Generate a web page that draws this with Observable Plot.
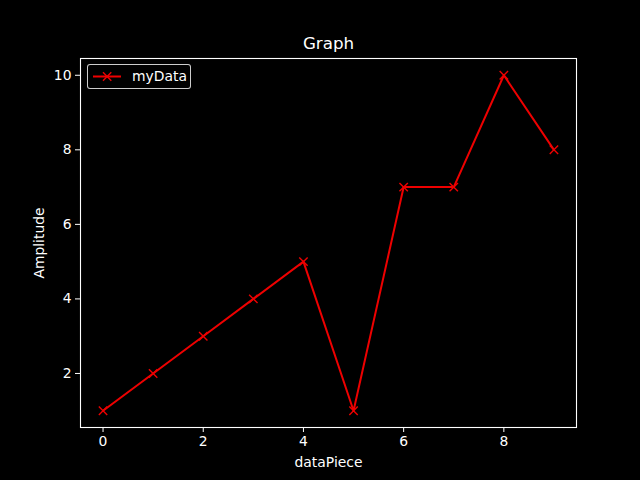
<!DOCTYPE html>
<html>
<head>
<meta charset="utf-8">
<script src="https://cdn.jsdelivr.net/npm/d3@7"></script>
<script src="https://cdn.jsdelivr.net/npm/@observablehq/plot@0.6"></script>
<style>
  html, body { margin: 0; padding: 0; background: #000; }
  #wrap { position: relative; width: 640px; height: 480px; background: #000; font-family: "DejaVu Sans", sans-serif; }
  #legend { position: absolute; left: 87px; top: 64px; width: 104px; height: 25px; box-sizing: border-box;
    border: 1px solid rgba(255,255,255,0.8); border-radius: 3px; background: rgba(0,0,0,0.8); }
  #legend svg { position: absolute; left: 0; top: 0; }
  #legend span { position: absolute; left: 44px; top: 2px; color: #fff; font-size: 13.9px; line-height: 18px; }
</style>
</head>
<body>
<div id="wrap"></div>
<script>
const xValues = [0, 1, 2, 3, 4, 5, 6, 7, 8, 9];
const yValues = [1, 2, 3, 4, 5, 1, 7, 7, 10, 8];
const xTicks = [0, 2, 4, 6, 8];
const yTicks = [2, 4, 6, 8, 10];
const seriesName = "myData";
const titleText = "Graph";
const xLabel = "dataPiece";
const yLabel = "Amplitude";

const data = xValues.map((x, i) => ({x, y: yValues[i]}));
const lineColor = "#ee0000";
const font = "DejaVu Sans, sans-serif";

const chart = Plot.plot({
  width: 640,
  height: 480,
  marginLeft: 80,
  marginRight: 64,
  marginTop: 58,
  marginBottom: 53,
  style: {background: "#000", color: "#fff", fontFamily: font, fontSize: "13.9px"},
  x: {domain: [-0.45, 9.45]},
  y: {domain: [0.55, 10.45]},
  marks: [
    Plot.frame({stroke: "#fff", strokeWidth: 1.1}),
    Plot.axisX(xTicks, {tickSize: 5, tickPadding: 4, stroke: "#fff", fill: "#fff", fontSize: 13.9, label: null}),
    Plot.axisY(yTicks, {tickSize: 5, tickPadding: 4, stroke: "#fff", fill: "#fff", fontSize: 13.9, label: null}),
    Plot.line(data, {x: "x", y: "y", stroke: lineColor, strokeWidth: 2}),
    Plot.dot(data, {x: "x", y: "y", symbol: "times", r: 3.9, stroke: lineColor, strokeWidth: 1.4}),
    Plot.text([titleText], {frameAnchor: "top", dy: -15, fill: "#fff", fontSize: 16.7, lineAnchor: "middle"}),
    Plot.text([xLabel], {frameAnchor: "bottom", dy: 35, fill: "#fff", fontSize: 13.9, lineAnchor: "middle"}),
    Plot.text([yLabel], {frameAnchor: "left", dx: -41, rotate: -90, textAnchor: "middle", fill: "#fff", fontSize: 13.9, lineAnchor: "middle"})
  ]
});

const wrap = document.getElementById("wrap");
wrap.appendChild(chart);

const legend = document.createElement("div");
legend.id = "legend";
legend.innerHTML = `<svg width="104" height="25">
  <line x1="5" y1="11.5" x2="33" y2="11.5" stroke="${lineColor}" stroke-width="2"/>
  <path d="M15,7.3L23.3,15.7M15,15.7L23.3,7.3" stroke="${lineColor}" stroke-width="1.4"/>
</svg><span>${seriesName}</span>`;
wrap.appendChild(legend);
</script>
</body>
</html>
